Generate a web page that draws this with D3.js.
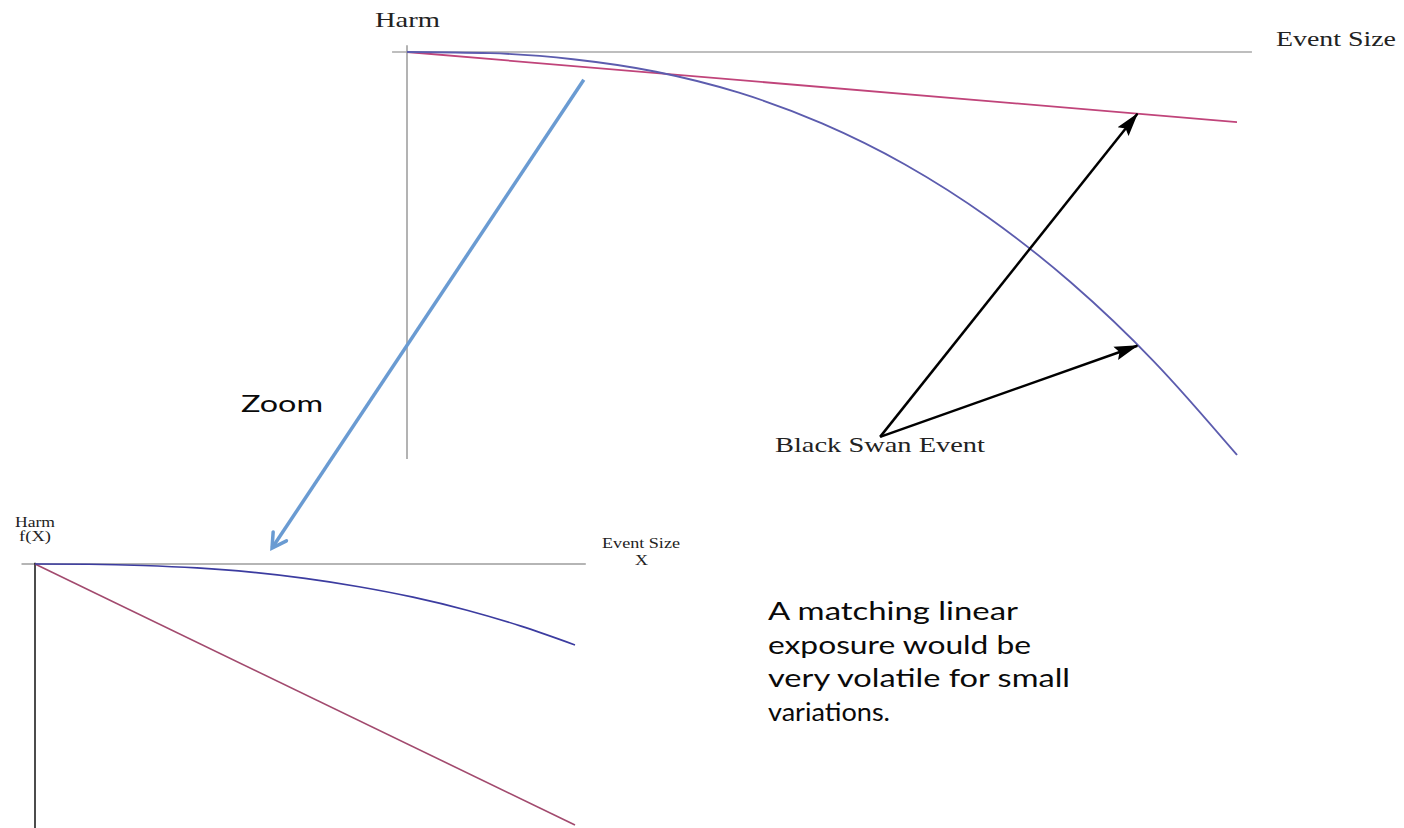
<!DOCTYPE html>
<html>
<head>
<meta charset="utf-8">
<script src="https://cdn.jsdelivr.net/npm/d3@7"></script>
<style>
  body { margin: 0; background: #fff; }
  svg { display: block; }
  .serif { font-family: "Liberation Serif", "Times New Roman", serif; fill: #222; }
  .sans { font-family: Lato, "Open Sans", sans-serif; fill: #0a0a0a; }
</style>
</head>
<body>
<svg id="chart" width="1404" height="828"></svg>
<script>
'use strict';

// event size steps (same for both panels)
var eventSize = [0, 1, 2, 3, 4, 5, 6, 7, 8, 9, 10];
// big picture: convex harm and a linear exposure
var topConvex = [0, -0.3, -1.8, -4.9, -10.1, -17.7, -27.9, -41.0, -57.2, -76.8, -100];
var linearX = [0, 10];
var topLinear = [0, -17.4];
// zoomed panel
var zoomConvex = [0, -0.1, -0.55, -1.5, -3.1, -5.5, -8.7, -12.7, -17.7, -23.8, -31];
var zoomLinear = [0, -100];

// annotation anchors, in data units of each panel
var swanX = 8.8;
var swanAnchor = [5.7, -95.5];
var zoomFrom = [2.13, -6.9];   // top panel units
var zoomTo = [4.39, 6.1];      // bottom panel units

var svg = d3.select("#chart");

var defs = svg.append("defs");
defs.append("marker")
  .attr("id", "blackHead")
  .attr("markerUnits", "userSpaceOnUse")
  .attr("viewBox", "0 0 24 16")
  .attr("refX", 23).attr("refY", 8)
  .attr("markerWidth", 24).attr("markerHeight", 16)
  .attr("orient", "auto")
  .append("path")
  .attr("d", "M0,1L24,8L0,15L4,8Z")
  .attr("fill", "#000");

defs.append("marker")
  .attr("id", "blueHead")
  .attr("markerUnits", "userSpaceOnUse")
  .attr("viewBox", "0 0 20 20")
  .attr("refX", 17).attr("refY", 10)
  .attr("markerWidth", 20).attr("markerHeight", 20)
  .attr("orient", "auto")
  .append("path")
  .attr("d", "M3,2L17,10L3,18")
  .attr("fill", "none")
  .attr("stroke", "#6a9bd2")
  .attr("stroke-width", 3.5)
  .attr("stroke-linecap", "round");

//
// top panel
//
var xTop = d3.scaleLinear().domain([0, 10]).range([407, 1237]);
var yTop = d3.scaleLinear().domain([0, -100]).range([52, 455]);

var gTop = svg.append("g");

gTop.append("line")
  .attr("x1", xTop(-0.18)).attr("x2", xTop(10.18))
  .attr("y1", yTop(0)).attr("y2", yTop(0))
  .attr("stroke", "#a9a9a9").attr("stroke-width", 1.5);
gTop.append("line")
  .attr("x1", xTop(0)).attr("x2", xTop(0))
  .attr("y1", yTop(1.7)).attr("y2", yTop(-101))
  .attr("stroke", "#9a9a9a").attr("stroke-width", 1.5);

var lineTop = d3.line()
  .x(d => xTop(d[0]))
  .y(d => yTop(d[1]))
  .curve(d3.curveMonotoneX);

gTop.append("path")
  .datum(d3.zip(linearX, topLinear))
  .attr("d", lineTop)
  .attr("fill", "none")
  .attr("stroke", "#c0447a")
  .attr("stroke-width", 1.8);

gTop.append("path")
  .datum(d3.zip(eventSize, topConvex))
  .attr("d", lineTop)
  .attr("fill", "none")
  .attr("stroke", "#5c5cae")
  .attr("stroke-width", 1.8);

gTop.append("text").attr("class", "serif")
  .attr("x", 375).attr("y", 27)
  .attr("font-size", 22)
  .attr("textLength", 65).attr("lengthAdjust", "spacingAndGlyphs")
  .text("Harm");
gTop.append("text").attr("class", "serif")
  .attr("x", 1276).attr("y", 46)
  .attr("font-size", 22)
  .attr("textLength", 120).attr("lengthAdjust", "spacingAndGlyphs")
  .text("Event Size");

// black swan arrows, tips sit on the two curves
var linAt = d3.scaleLinear().domain(linearX).range(topLinear);
var convAt = d3.scaleLinear().domain(eventSize).range(topConvex);
var swanTips = [linAt(swanX), convAt(swanX)];

gTop.selectAll(".swan")
  .data(swanTips)
  .enter()
  .append("line")
  .attr("class", "swan")
  .attr("x1", xTop(swanAnchor[0])).attr("y1", yTop(swanAnchor[1]))
  .attr("x2", xTop(swanX)).attr("y2", d => yTop(d))
  .attr("stroke", "#000")
  .attr("stroke-width", 2.5)
  .attr("marker-end", "url(#blackHead)");

gTop.append("text").attr("class", "serif")
  .attr("x", 775).attr("y", 452)
  .attr("font-size", 22)
  .attr("textLength", 210).attr("lengthAdjust", "spacingAndGlyphs")
  .text("Black Swan Event");

//
// bottom (zoomed) panel
//
var xBot = d3.scaleLinear().domain([0, 10]).range([35, 575]);
var yBot = d3.scaleLinear().domain([0, -100]).range([564, 825]);

var gBot = svg.append("g");

gBot.append("line")
  .attr("x1", xBot(-0.25)).attr("x2", xBot(10.2))
  .attr("y1", yBot(0)).attr("y2", yBot(0))
  .attr("stroke", "#b5b5b5").attr("stroke-width", 2);
gBot.append("line")
  .attr("x1", xBot(0)).attr("x2", xBot(0))
  .attr("y1", yBot(0.5)).attr("y2", 828)
  .attr("stroke", "#111").attr("stroke-width", 1.5);

var lineBot = d3.line()
  .x(d => xBot(d[0]))
  .y(d => yBot(d[1]))
  .curve(d3.curveMonotoneX);

gBot.append("path")
  .datum(d3.zip(linearX, zoomLinear))
  .attr("d", lineBot)
  .attr("fill", "none")
  .attr("stroke", "#a24a6e")
  .attr("stroke-width", 1.6);

gBot.append("path")
  .datum(d3.zip(eventSize, zoomConvex))
  .attr("d", lineBot)
  .attr("fill", "none")
  .attr("stroke", "#3c3ca0")
  .attr("stroke-width", 1.6);

gBot.append("text").attr("class", "serif")
  .attr("x", 15).attr("y", 527)
  .attr("font-size", 14)
  .attr("textLength", 40).attr("lengthAdjust", "spacingAndGlyphs")
  .text("Harm");
gBot.append("text").attr("class", "serif")
  .attr("x", 19).attr("y", 541)
  .attr("font-size", 14)
  .attr("textLength", 32).attr("lengthAdjust", "spacingAndGlyphs")
  .text("f(X)");
gBot.append("text").attr("class", "serif")
  .attr("x", 602).attr("y", 548)
  .attr("font-size", 14)
  .attr("textLength", 78).attr("lengthAdjust", "spacingAndGlyphs")
  .text("Event Size");
gBot.append("text").attr("class", "serif")
  .attr("x", 635).attr("y", 565)
  .attr("font-size", 14)
  .attr("textLength", 13).attr("lengthAdjust", "spacingAndGlyphs")
  .text("X");

//
// zoom arrow between the panels
//
svg.append("line")
  .attr("x1", xTop(zoomFrom[0])).attr("y1", yTop(zoomFrom[1]))
  .attr("x2", xBot(zoomTo[0])).attr("y2", yBot(zoomTo[1]))
  .attr("stroke", "#6a9bd2")
  .attr("stroke-width", 3.5)
  .attr("marker-end", "url(#blueHead)");

svg.append("text").attr("class", "sans")
  .attr("x", 241).attr("y", 412)
  .attr("font-size", 24)
  .attr("textLength", 82).attr("lengthAdjust", "spacingAndGlyphs")
  .text("Zoom");

var noteLines = ["A matching linear", "exposure would be", "very volatile for small", "variations."];
var noteWidths = [250, 263, 302, 122];

svg.append("g").selectAll("text")
  .data(noteLines)
  .enter()
  .append("text")
  .attr("class", "sans")
  .attr("x", 768)
  .attr("y", (d, i) => 620 + i * 33.5)
  .attr("font-size", 25)
  .attr("textLength", (d, i) => noteWidths[i])
  .attr("lengthAdjust", "spacingAndGlyphs")
  .text(d => d);
</script>
</body>
</html>
